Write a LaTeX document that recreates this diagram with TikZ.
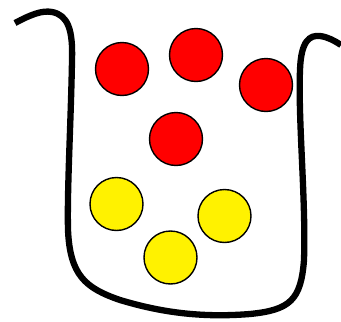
\documentclass[tikz,border=0pt]{standalone}
\begin{document}
\begin{tikzpicture}[x=1pt,y=-1pt,
  ball/.style={circle,draw=black,line width=1.4pt,minimum size=53pt,inner sep=0pt},
  redball/.style={ball,fill=red},
  yellowball/.style={ball,fill=yellow}]
\useasboundingbox (0,0) rectangle (341,322);
\draw[line width=6.3pt,line join=round]
  (15,23) .. controls (30,15) and (42,10) .. (52,12)
  .. controls (68,15) and (73,30) .. (72,60)
  .. controls (71,120) and (67,190) .. (68,230)
  .. controls (70,275) and (85,288) .. (120,300)
  .. controls (160,312) and (200,318) .. (250,314)
  .. controls (290,310) and (301,300) .. (304,260)
  .. controls (306,200) and (298,120) .. (300,70)
  .. controls (301,40) and (310,35) .. (320,36)
  .. controls (328,37) and (335,41) .. (341,45);
\node[redball] (r1) at (122,69) {};
\node[redball] (r2) at (196,55) {};
\node[redball] (r3) at (266,85) {};
\node[redball] (r4) at (176,139) {};
\node[yellowball] (y1) at (116.5,204) {};
\node[yellowball] (y2) at (224.5,216) {};
\node[yellowball] (y3) at (170.5,257.5) {};
\end{tikzpicture}
\end{document}
